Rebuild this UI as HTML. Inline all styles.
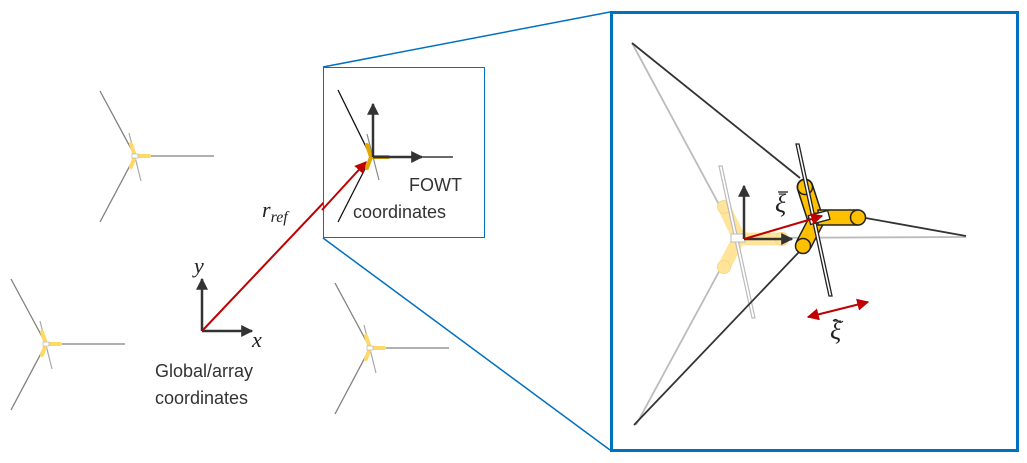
<!DOCTYPE html>
<html><head><meta charset="utf-8"><style>
html,body{margin:0;padding:0;background:#fff;width:1027px;height:463px;overflow:hidden}
svg{display:block}
text{font-family:"Liberation Sans",sans-serif;fill:#333}
.m{font-family:"Liberation Serif",serif;font-style:italic;fill:#222}
</style></head><body>
<svg width="1027" height="463" viewBox="0 0 1027 463">
<defs>
<marker id="ak" viewBox="0 0 10 10" refX="9" refY="5" markerWidth="12" markerHeight="12" orient="auto" markerUnits="userSpaceOnUse"><path d="M0,0L10,5L0,10z" fill="#333"/></marker>
<marker id="ar" viewBox="0 0 10 10" refX="9" refY="5" markerWidth="12" markerHeight="12" orient="auto" markerUnits="userSpaceOnUse"><path d="M0,0L10,5L0,10z" fill="#c00000"/></marker>
<marker id="ar2" viewBox="0 0 10 10" refX="9" refY="5" markerWidth="12" markerHeight="12" orient="auto-start-reverse" markerUnits="userSpaceOnUse"><path d="M0,0L10,5L0,10z" fill="#c00000"/></marker>
<g id="st">
<line x1="0" y1="0" x2="-35" y2="-65" stroke="#808080" stroke-width="1.3"/>
<line x1="0" y1="0" x2="-35" y2="66" stroke="#808080" stroke-width="1.3"/>
<line x1="0" y1="0" x2="79" y2="0" stroke="#808080" stroke-width="1.3"/>
<line x1="-6" y1="-23" x2="6" y2="25" stroke="#aaa" stroke-width="1.2"/>
<line x1="0" y1="0" x2="-4" y2="-12" stroke="#ffd966" stroke-width="4" stroke-linecap="round"/>
<line x1="0" y1="0" x2="-4" y2="11" stroke="#ffd966" stroke-width="4" stroke-linecap="round"/>
<line x1="0" y1="0" x2="14" y2="0" stroke="#ffd966" stroke-width="4" stroke-linecap="round"/>
<rect x="-3" y="-2" width="6" height="4" fill="#fff" stroke="#aaa" stroke-width="0.6"/>
</g>
</defs>
<use href="#st" x="135" y="156"/>
<use href="#st" x="46" y="344"/>
<use href="#st" x="370" y="348"/>

<line x1="202" y1="331" x2="202" y2="279" stroke="#333" stroke-width="2.5" marker-end="url(#ak)"/>
<line x1="202" y1="331" x2="252" y2="331" stroke="#333" stroke-width="2.5" marker-end="url(#ak)"/>
<text x="194" y="273" class="m" font-size="22">y</text>
<text x="252" y="347" class="m" font-size="22">x</text>
<text x="155" y="377" font-size="18">Global/array</text>
<text x="155" y="404" font-size="18">coordinates</text>
<line x1="202" y1="331" x2="364" y2="160" stroke="#c00000" stroke-width="2" marker-end="url(#ar)"/>
<text x="262" y="217" class="m" font-size="22">r<tspan font-size="16" dy="5">ref</tspan></text>

<line x1="323" y1="67" x2="610" y2="12" stroke="#0070c0" stroke-width="1.5"/>
<line x1="323" y1="238" x2="610" y2="450" stroke="#0070c0" stroke-width="1.5"/>
<rect x="323.5" y="67.5" width="161" height="170" fill="#fff" stroke="#0070c0" stroke-width="1"/>
<line x1="371" y1="157" x2="338" y2="90" stroke="#111" stroke-width="1.3"/>
<line x1="371" y1="157" x2="338" y2="222" stroke="#111" stroke-width="1.3"/>
<line x1="371" y1="157" x2="453" y2="157" stroke="#111" stroke-width="1.3"/>
<line x1="367" y1="134" x2="379" y2="180" stroke="#888" stroke-width="1.2"/>
<line x1="371" y1="157" x2="367" y2="145" stroke="#e0a800" stroke-width="4" stroke-linecap="round"/>
<line x1="371" y1="157" x2="367" y2="168" stroke="#e0a800" stroke-width="4" stroke-linecap="round"/>
<line x1="371" y1="157" x2="388" y2="157" stroke="#e0a800" stroke-width="4" stroke-linecap="round"/>
<line x1="373" y1="157" x2="373" y2="104" stroke="#333" stroke-width="2.5" marker-end="url(#ak)"/>
<line x1="373" y1="157" x2="422" y2="157" stroke="#333" stroke-width="2.5" marker-end="url(#ak)"/>
<line x1="322" y1="210" x2="366" y2="162" stroke="#c00000" stroke-width="2" marker-end="url(#ar)"/>
<text x="409" y="191" font-size="18">FOWT</text>
<text x="353" y="218" font-size="18">coordinates</text>

<rect x="611.5" y="12.5" width="406" height="438" fill="#fff" stroke="#0070c0" stroke-width="3"/>
<line x1="632" y1="43" x2="730" y2="225" stroke="#bbb" stroke-width="1.8"/>
<line x1="636" y1="425" x2="728" y2="255" stroke="#bbb" stroke-width="1.8"/>
<line x1="735" y1="238" x2="966" y2="237" stroke="#bbb" stroke-width="1.8"/>
<g fill="#ffe49a" stroke="#f3d98a" stroke-width="1">
<line x1="738" y1="236" x2="724" y2="207" stroke="#ffe49a" stroke-width="13" stroke-linecap="round"/>
<line x1="738" y1="240" x2="724" y2="267" stroke="#ffe49a" stroke-width="13" stroke-linecap="round"/>
<line x1="738" y1="239" x2="782" y2="239" stroke="#ffe49a" stroke-width="13" stroke-linecap="round"/>
<circle cx="782" cy="239" r="6.5"/>
<circle cx="724" cy="207" r="6.5"/>
<circle cx="724" cy="267" r="6.5"/>
</g>
<path d="M719,166 L722,166 L755,318 L752,318 Z" fill="#fff" stroke="#bbb" stroke-width="1.2"/>
<rect x="731" y="234" width="14" height="8" fill="#fff" stroke="#bbb" stroke-width="1"/>
<line x1="632" y1="43" x2="800" y2="178" stroke="#333" stroke-width="1.8"/>
<line x1="634" y1="425" x2="799" y2="252" stroke="#333" stroke-width="1.8"/>
<line x1="860" y1="217" x2="966" y2="236" stroke="#333" stroke-width="1.8"/>
<line x1="744" y1="239" x2="744" y2="186" stroke="#333" stroke-width="2.5" marker-end="url(#ak)"/>
<line x1="744" y1="239" x2="792" y2="239" stroke="#333" stroke-width="2.5" marker-end="url(#ak)"/>
<g stroke="#222" stroke-width="1.5" fill="#ffc000">
<line x1="816" y1="221" x2="805" y2="187" stroke="#222" stroke-width="17" stroke-linecap="round"/>
<line x1="816" y1="221" x2="805" y2="187" stroke="#ffc000" stroke-width="14" stroke-linecap="round"/>
<line x1="816" y1="221" x2="804" y2="244" stroke="#222" stroke-width="17" stroke-linecap="round"/>
<line x1="816" y1="221" x2="804" y2="244" stroke="#ffc000" stroke-width="14" stroke-linecap="round"/>
<rect x="818" y="210" width="40" height="15"/>
<circle cx="858" cy="217.5" r="7.5"/>
<circle cx="805" cy="187" r="7.5"/>
<circle cx="803" cy="246" r="7.5"/>
</g>
<path d="M796,144 L799,144 L832,296 L829,296 Z" fill="#fff" stroke="#222" stroke-width="1.3"/>
<rect x="809" y="213" width="20" height="9" fill="#fff" stroke="#222" stroke-width="1.3" transform="rotate(-15 819 217)"/>
<line x1="744" y1="239" x2="822" y2="216" stroke="#c00000" stroke-width="2" marker-end="url(#ar)"/>
<line x1="808" y1="317" x2="868" y2="302" stroke="#c00000" stroke-width="2" marker-start="url(#ar2)" marker-end="url(#ar2)"/>
<text class="m" font-size="26" x="775" y="212">ξ</text>
<line x1="778" y1="192" x2="788" y2="192" stroke="#222" stroke-width="1.3"/>
<text class="m" font-size="26" x="830" y="339">ξ</text>
<path d="M833,321 q2.5,-3 5,0 q2.5,3 5,0" fill="none" stroke="#222" stroke-width="1.2"/>
</svg>
</body></html>
